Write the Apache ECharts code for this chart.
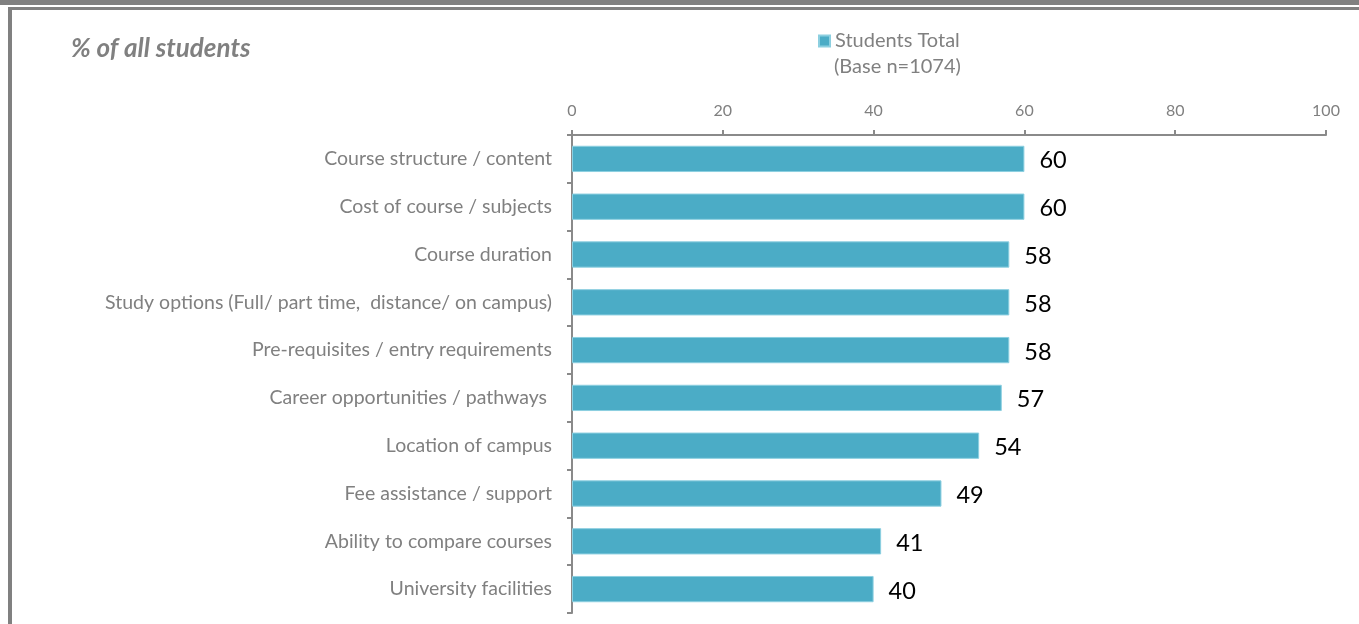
<!DOCTYPE html>
<html>
<head>
<meta charset="utf-8">
<script src="https://cdn.jsdelivr.net/npm/echarts@6/dist/echarts.min.js"></script>
<style>
  html, body { margin: 0; padding: 0; background: #ffffff; }
  #chart { width: 1359px; height: 624px; }
</style>
</head>
<body>
<div id="chart"></div>
<script>
// Factors students consider when choosing a course (% of all students)
const categories = [
  'Course structure / content',
  'Cost of course / subjects',
  'Course duration',
  'Study options (Full/ part time,  distance/ on campus)',
  'Pre-requisites / entry requirements',
  'Career opportunities / pathways ',
  'Location of campus',
  'Fee assistance / support',
  'Ability to compare courses',
  'University facilities'
];
const studentsTotal = [60, 60, 58, 58, 58, 57, 54, 49, 41, 40];
const seriesName = 'Students Total';
const baseNote = '(Base n=1074)';
const chartTitle = '% of all students';

const FONT = 'Lato, "Open Sans", sans-serif';
const GREY = '#808080';
const AXIS = '#8a8a8a';

const chart = echarts.init(document.getElementById('chart'));
chart.setOption({
  animation: false,
  backgroundColor: '#ffffff',
  title: {
    text: chartTitle,
    left: 66,
    top: 31,
    textStyle: {
      fontFamily: FONT,
      fontSize: 26,
      fontWeight: 'bold',
      fontStyle: 'italic',
      color: GREY
    }
  },
  legend: {
    data: [seriesName],
    left: 818,
    top: 29,
    padding: 0,
    itemWidth: 11,
    itemHeight: 11,
    itemGap: 5,
    icon: 'rect',
    textStyle: {
      fontFamily: FONT,
      fontSize: 20,
      lineHeight: 24,
      color: GREY
    }
  },
  grid: {
    left: 572,
    right: 33,
    top: 135,
    height: 478,
    containLabel: false
  },
  xAxis: {
    type: 'value',
    position: 'top',
    min: 0,
    max: 100,
    interval: 20,
    axisLine: { show: true, lineStyle: { color: AXIS, width: 2 } },
    axisTick: { show: true, length: 5, lineStyle: { color: AXIS, width: 2 } },
    axisLabel: {
      margin: 16,
      fontFamily: FONT,
      fontSize: 16,
      color: GREY
    },
    splitLine: { show: false }
  },
  yAxis: {
    type: 'category',
    data: categories,
    inverse: true,
    axisLine: { show: true, lineStyle: { color: AXIS, width: 2 } },
    axisTick: { show: true, length: 5, lineStyle: { color: AXIS, width: 2 } },
    axisLabel: {
      margin: 20,
      fontFamily: FONT,
      fontSize: 19.5,
      color: GREY
    }
  },
  series: [{
    name: seriesName,
    type: 'bar',
    data: studentsTotal,
    barCategoryGap: '45%',
    itemStyle: {
      color: '#4bacc6',
      borderColor: '#8ccfe0',
      borderWidth: 1
    },
    label: {
      show: true,
      position: 'right',
      distance: 15,
      offset: [0, 2],
      fontFamily: FONT,
      fontSize: 23.5,
      color: '#000000'
    }
  }],
  graphic: [
    // second line of the legend entry: sample size
    {
      type: 'text',
      left: 834,
      top: 57,
      style: { text: baseNote, fontFamily: FONT, fontSize: 20, fill: GREY }
    },
    // frame around the chart area
    { type: 'rect', shape: { x: 0, y: 0, width: 1359, height: 5 }, style: { fill: '#808080' }, silent: true },
    { type: 'rect', shape: { x: 8, y: 7, width: 1351, height: 3 }, style: { fill: '#808080' }, silent: true },
    { type: 'rect', shape: { x: 8, y: 7, width: 4, height: 617 }, style: { fill: '#808080' }, silent: true }
  ]
});
</script>
</body>
</html>
